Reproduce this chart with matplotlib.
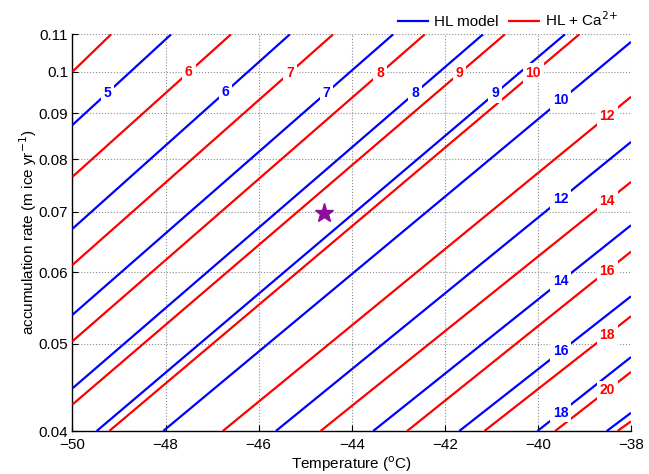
import numpy as np
import matplotlib
matplotlib.use('Agg')
import matplotlib.pyplot as plt
from matplotlib.lines import Line2D

plt.rcParams['font.family'] = ['Liberation Sans', 'DejaVu Sans']

# contour levels and where each contour enters / leaves the box
blue_levels = [5, 6, 7, 8, 9, 10, 12, 14, 16, 18, 20]
blue_T0 = [-50, -50, -50, -50, -49.48, -48.05, -45.63, -43.54, -41.69, -40.01, -38.52]
blue_A0 = [0.0873, 0.0670, 0.0538, 0.0446, 0.04, 0.04, 0.04, 0.04, 0.04, 0.04, 0.04]
blue_T1 = [-47.88, -45.33, -43.11, -41.18, -39.42, -38, -38, -38, -38, -38, -38]
blue_A1 = [0.11, 0.11, 0.11, 0.11, 0.11, 0.1079, 0.0836, 0.0676, 0.0564, 0.0483, 0.0419]

red_levels = [5, 6, 7, 8, 9, 10, 12, 14, 16, 18, 20, 22]
red_T0 = [-50, -50, -50, -50, -50, -49.21, -46.77, -44.67, -42.81, -41.15, -39.63, -38.29]
red_A0 = [0.100, 0.0765, 0.0611, 0.0503, 0.0428, 0.04, 0.04, 0.04, 0.04, 0.04, 0.04, 0.04]
red_T1 = [-49.17, -46.595, -44.40, -42.43, -40.71, -39.11, -38, -38, -38, -38, -38, -38]
red_A1 = [0.11, 0.11, 0.11, 0.11, 0.11, 0.11, 0.0938, 0.0755, 0.0632, 0.0536, 0.0465, 0.0410]

# site marker
star_T = -44.6
star_A = 0.0698

xticks = [-50, -48, -46, -44, -42, -40, -38]
yticks = [0.04, 0.05, 0.06, 0.07, 0.08, 0.09, 0.1, 0.11]
ytick_labels = ['0.04', '0.05', '0.06', '0.07', '0.08', '0.09', '0.1', '0.11']

# label positions (temperature along each contour)
blue_lab = {5: -49.25, 6: -46.72, 7: -44.55, 8: -42.64, 9: -40.92,
            10: -39.51, 12: -39.51, 14: -39.51, 16: -39.51, 18: -39.51}
red_lab = {6: -47.50, 7: -45.33, 8: -43.39, 9: -41.68, 10: -40.10,
           12: -38.51, 14: -38.51, 16: -38.51, 18: -38.51, 20: -38.51}

fig = plt.figure(figsize=(6.49, 4.74), dpi=100)
ax = fig.add_axes([0.1117, 0.0907, 0.8606, 0.8369])
ax.set_yscale('log')


def draw(levels, T0, A0, T1, A1, labs, col):
    for lev, t0, a0, t1, a1 in zip(levels, T0, A0, T1, A1):
        ax.plot([t0, t1], [a0, a1], color=col, lw=1.6, zorder=3, solid_capstyle='butt')
        if lev in labs:
            t = labs[lev]
            f = (t - t0) / (t1 - t0)
            a = np.exp(np.log(a0) + f * (np.log(a1) - np.log(a0)))
            ax.text(t, a, str(lev), color=col, fontsize=10, fontweight='bold',
                    ha='center', va='center', zorder=4,
                    bbox=dict(facecolor='white', edgecolor='none', pad=2))


draw(blue_levels, blue_T0, blue_A0, blue_T1, blue_A1, blue_lab, (0, 0, 1))
draw(red_levels, red_T0, red_A0, red_T1, red_A1, red_lab, (1, 0, 0))

ax.plot(star_T, star_A, marker='*', color=(0.55, 0.05, 0.6), markersize=14,
        linestyle='none', zorder=5)

ax.set_xlim(-50, -38)
ax.set_ylim(0.04, 0.11)
ax.set_xticks(xticks)
ax.set_xticklabels([f'\u2212{abs(v)}' for v in xticks])
ax.set_yticks(yticks)
ax.set_yticklabels(ytick_labels)
ax.yaxis.set_minor_locator(matplotlib.ticker.NullLocator())
ax.tick_params(direction='in', length=4, labelsize=11)
ax.tick_params(axis='x', pad=5)
ax.tick_params(axis='y', pad=3)
ax.grid(True, linestyle=':', color='0.55', linewidth=0.8)
ax.set_axisbelow(True)
for s in ['top', 'right']:
    ax.spines[s].set_visible(False)
for s in ['left', 'bottom']:
    ax.spines[s].set_linewidth(1.0)

ax.set_xlabel('Temperature ($^{\\rm o}$C)', fontsize=11, labelpad=2)
ax.set_ylabel('accumulation rate (m ice yr$^{-1}$)', fontsize=11, labelpad=0)

handles = [Line2D([], [], color=(0, 0, 1), lw=1.6),
           Line2D([], [], color=(1, 0, 0), lw=1.6)]
fig.legend(handles, ['HL model', 'HL + Ca$^{2{+}}$'], loc='center right',
           bbox_to_anchor=(0.952, 0.958), ncol=2, frameon=False, fontsize=11,
           handlelength=2.0, handletextpad=0.35, columnspacing=0.7,
           borderaxespad=0, borderpad=0)

fig.savefig('out.png', dpi=100)
